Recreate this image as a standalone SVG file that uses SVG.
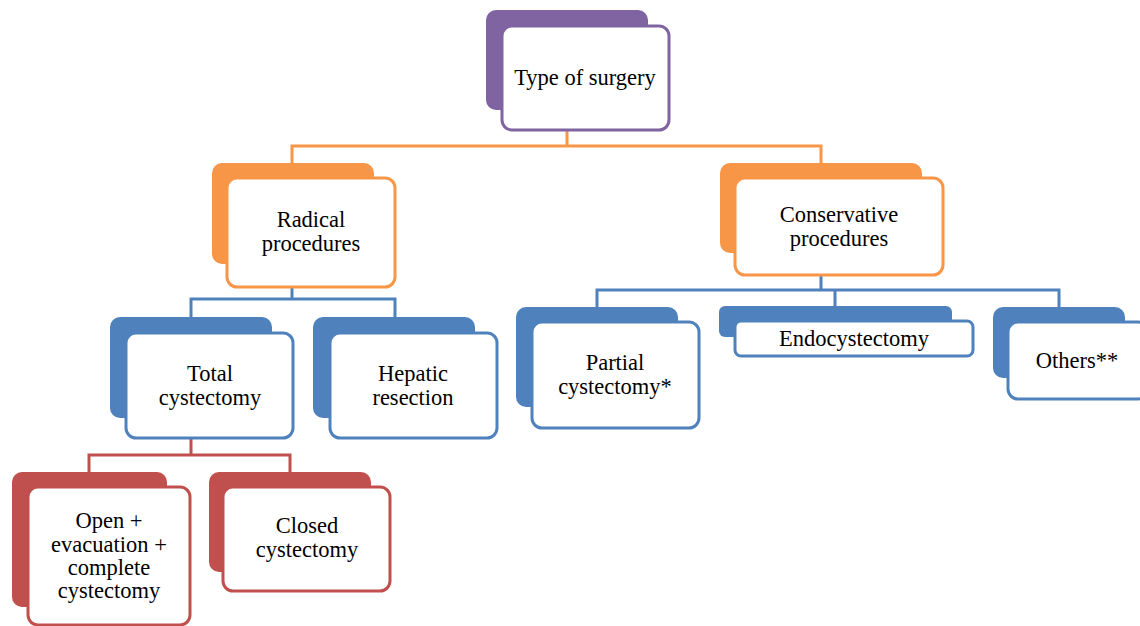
<svg xmlns="http://www.w3.org/2000/svg" width="1140" height="626" viewBox="0 0 1140 626">
<style>
.t{font-family:"Liberation Serif","Times New Roman",serif;font-size:22.5px;fill:#000;text-anchor:middle}
.f{fill:#fff;stroke-width:3}
.pu .b{fill:#8064A2}.pu .f{stroke:#8064A2}
.or .b{fill:#F79646}.or .f{stroke:#F79646}
.bl .b{fill:#4F81BD}.bl .f{stroke:#4F81BD}
.rd .b{fill:#C0504D}.rd .f{stroke:#C0504D}
.c{fill:none;stroke-width:3}
</style>
<rect width="1140" height="626" fill="#fff"/>
<g id="connectors">
<path class="c" stroke="#F79646" d="M567 131V146M292 163V146H821V163"/>
<path class="c" stroke="#4F81BD" d="M292 287V299M191 317V299H395V317"/>
<path class="c" stroke="#4F81BD" d="M821 275V290M597 307V290H1059V307M835 290V306"/>
<path class="c" stroke="#C0504D" d="M191 438V455M89 472V455H290V472"/>
</g>
<g id="n-type" class="pu">
<rect class="b" x="486" y="10" width="162" height="100" rx="10"/>
<rect class="f" x="502" y="26" width="167" height="104" rx="10"/>
<text class="t" x="585" y="85">Type of surgery</text>
</g>
<g id="n-radical" class="or">
<rect class="b" x="212" y="163" width="162" height="101" rx="10"/>
<rect class="f" x="227" y="178" width="168" height="109" rx="10"/>
<text class="t" x="311" y="227">Radical</text>
<text class="t" x="311" y="251">procedures</text>
</g>
<g id="n-conservative" class="or">
<rect class="b" x="720" y="163" width="202" height="90" rx="10"/>
<rect class="f" x="735" y="178" width="208" height="97" rx="10"/>
<text class="t" x="839" y="222">Conservative</text>
<text class="t" x="839" y="246">procedures</text>
</g>
<g id="n-total" class="bl">
<rect class="b" x="110" y="317" width="162" height="101" rx="10"/>
<rect class="f" x="126" y="333" width="167" height="105" rx="10"/>
<text class="t" x="210" y="381">Total</text>
<text class="t" x="210" y="405">cystectomy</text>
</g>
<g id="n-hepatic" class="bl">
<rect class="b" x="313" y="317" width="162" height="101" rx="10"/>
<rect class="f" x="330" y="333" width="167" height="105" rx="10"/>
<text class="t" x="413" y="381">Hepatic</text>
<text class="t" x="413" y="405">resection</text>
</g>
<g id="n-partial" class="bl">
<rect class="b" x="516" y="307" width="162" height="100" rx="10"/>
<rect class="f" x="532" y="322" width="167" height="106" rx="10"/>
<text class="t" x="615" y="370">Partial</text>
<text class="t" x="615" y="394">cystectomy*</text>
</g>
<g id="n-endo" class="bl">
<rect class="b" x="719" y="306" width="233" height="31" rx="6"/>
<rect class="f" x="735" y="321" width="238" height="35" rx="6"/>
<text class="t" x="854" y="346">Endocystectomy</text>
</g>
<g id="n-others" class="bl">
<rect class="b" x="993" y="307" width="132" height="71" rx="10"/>
<rect class="f" x="1008" y="322" width="140" height="77" rx="10"/>
<text class="t" x="1077" y="368">Others**</text>
</g>
<g id="n-open" class="rd">
<rect class="b" x="12" y="472" width="155" height="135" rx="10"/>
<rect class="f" x="28" y="487" width="162" height="138" rx="10"/>
<text class="t" x="109" y="528">Open +</text>
<text class="t" x="109" y="552">evacuation +</text>
<text class="t" x="109" y="575">complete</text>
<text class="t" x="109" y="598">cystectomy</text>
</g>
<g id="n-closed" class="rd">
<rect class="b" x="209" y="472" width="162" height="100" rx="10"/>
<rect class="f" x="223" y="487" width="167" height="104" rx="10"/>
<text class="t" x="307" y="533">Closed</text>
<text class="t" x="307" y="557">cystectomy</text>
</g>
</svg>
